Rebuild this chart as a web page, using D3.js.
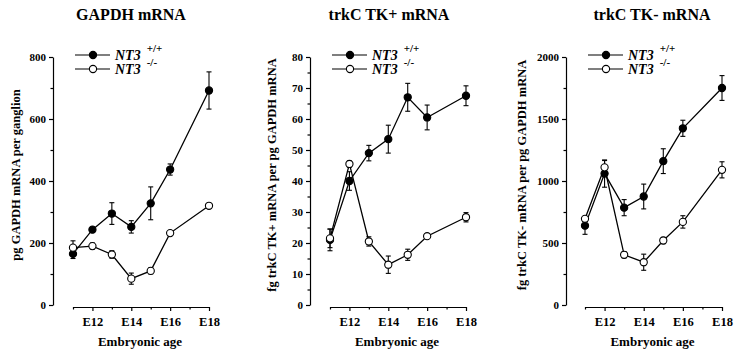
<!DOCTYPE html>
<html>
<head>
<meta charset="utf-8">
<script src="https://cdn.jsdelivr.net/npm/d3@7"></script>
<style>
  body { margin: 0; background: #fff; }
  text { font-family: "Liberation Serif", "DejaVu Serif", serif; font-weight: bold; fill: #000; }
</style>
</head>
<body>
<script>
// embryonic days sampled (no E17 point)
var ages = [11, 12, 13, 14, 15, 16, 18];
var xTickLabels = ["E12", "E14", "E16", "E18"];

// GAPDH mRNA, pg per ganglion
var gapdhWT = [165, 243, 295, 252, 328, 437, 692];
var gapdhWTErr = [15, 8, 35, 20, 53, 18, 60];
var gapdhKO = [185, 190, 163, 85, 110, 232, 320];
var gapdhKOErr = [22, 10, 12, 18, 10, 5, 5];

// trkC TK+ mRNA, fg per pg GAPDH mRNA
var tkPlusWT = [21, 40, 49, 53.5, 67, 60.5, 67.5];
var tkPlusWTErr = [3.5, 3, 2.5, 4.5, 4.5, 4, 3.2];
var tkPlusKO = [21.5, 45.5, 20.5, 13, 16.2, 22.2, 28.3];
var tkPlusKOErr = [3, 1, 1.5, 2.8, 1.8, 0.5, 1.5];

// trkC TK- mRNA, fg per pg GAPDH mRNA
var tkMinusWT = [640, 1060, 785, 875, 1160, 1425, 1750];
var tkMinusWTErr = [70, 110, 65, 100, 100, 65, 100];
var tkMinusKO = [695, 1110, 405, 345, 520, 670, 1090];
var tkMinusKOErr = [20, 55, 25, 65, 25, 50, 65];

var w = 740, h = 353;
var yTop = 57, yBottom = 305, xAxisY = 307;

var panels = [
  { title: "GAPDH mRNA", ylabel: "pg GAPDH mRNA per ganglion", yMax: 800, major: 200, minor: 100,
    axisX: 53, x0: 73, x1: 209, titleX: 131, ylabX: 20,
    wt: gapdhWT, wtErr: gapdhWTErr, ko: gapdhKO, koErr: gapdhKOErr },
  { title: "trkC TK+ mRNA", ylabel: "fg trkC TK+ mRNA per pg GAPDH mRNA", yMax: 80, major: 10, minor: 5,
    axisX: 310, x0: 330, x1: 466, titleX: 389, ylabX: 276,
    wt: tkPlusWT, wtErr: tkPlusWTErr, ko: tkPlusKO, koErr: tkPlusKOErr },
  { title: "trkC TK- mRNA", ylabel: "fg trkC TK- mRNA per pg GAPDH mRNA", yMax: 2000, major: 500, minor: 250,
    axisX: 566, x0: 585, x1: 722, titleX: 652, ylabX: 526,
    wt: tkMinusWT, wtErr: tkMinusWTErr, ko: tkMinusKO, koErr: tkMinusKOErr }
];

var svg = d3.select("body").append("svg").attr("width", w).attr("height", h);

panels.forEach(function (p) {
  var g = svg.append("g");
  var xScale = d3.scaleLinear().domain([11, 18]).range([p.x0, p.x1]);
  var yScale = d3.scaleLinear().domain([0, p.yMax]).range([yBottom, yTop]);

  // title
  g.append("text").attr("x", p.titleX).attr("y", 20).attr("text-anchor", "middle")
    .style("font-size", "16px").text(p.title);

  // y axis: major ticks with labels, minor ticks without
  var yAxis = d3.axisLeft(yScale).tickValues(d3.range(0, p.yMax + 1, p.major))
    .tickFormat(d3.format("d")).tickSize(4).tickPadding(3).tickSizeOuter(0);
  var ya = g.append("g").attr("transform", "translate(" + p.axisX + ",0)").call(yAxis)
    .attr("font-family", null).attr("font-size", null);
  ya.selectAll("text").style("font-size", "11px");
  var yMinor = d3.axisLeft(yScale).tickValues(d3.range(p.minor, p.yMax, p.major))
    .tickSize(2.5).tickFormat("").tickSizeOuter(0);
  g.append("g").attr("transform", "translate(" + p.axisX + ",0)").call(yMinor)
    .select(".domain").remove();

  // x axis
  var xAxis = d3.axisBottom(xScale).tickValues([12, 14, 16, 18])
    .tickFormat(function (d, i) { return xTickLabels[i]; })
    .tickSize(4).tickPadding(6).tickSizeOuter(0);
  var xa = g.append("g").attr("transform", "translate(0," + xAxisY + ")").call(xAxis)
    .attr("font-family", null).attr("font-size", null);
  xa.selectAll("text").style("font-size", "12.5px");
  var xMinor = d3.axisBottom(xScale).tickValues([11, 13, 15, 17])
    .tickSize(2.5).tickFormat("").tickSizeOuter(0);
  g.append("g").attr("transform", "translate(0," + xAxisY + ")").call(xMinor)
    .select(".domain").remove();

  g.selectAll(".domain, .tick line").attr("stroke", "#000").attr("stroke-width", 1.2);

  // axis titles
  g.append("text").attr("x", (p.x0 + p.x1) / 2 - 1).attr("y", 346).attr("text-anchor", "middle")
    .style("font-size", "13px").text("Embryonic age");
  g.append("text")
    .attr("transform", "translate(" + p.ylabX + ",175) rotate(-90)")
    .attr("text-anchor", "middle").style("font-size", "12.5px").text(p.ylabel);

  // series
  var series = [
    { vals: p.wt, err: p.wtErr, fill: "#000" },
    { vals: p.ko, err: p.koErr, fill: "#fff" }
  ];
  var line = d3.line().x(function (d) { return xScale(d[0]); }).y(function (d) { return yScale(d[1]); });

  series.forEach(function (s) {
    var pts = ages.map(function (a, i) { return [a, s.vals[i], s.err[i]]; });
    g.append("path").datum(pts).attr("d", line).attr("fill", "none")
      .attr("stroke", "#000").attr("stroke-width", 1.3);
    var eb = g.append("g").selectAll("g").data(pts).enter().append("g");
    eb.append("line")
      .attr("x1", function (d) { return xScale(d[0]); }).attr("x2", function (d) { return xScale(d[0]); })
      .attr("y1", function (d) { return yScale(d[1] - d[2]); }).attr("y2", function (d) { return yScale(d[1] + d[2]); })
      .attr("stroke", "#000").attr("stroke-width", 1.1);
    [-1, 1].forEach(function (sign) {
      eb.append("line")
        .attr("x1", function (d) { return xScale(d[0]) - 2.5; }).attr("x2", function (d) { return xScale(d[0]) + 2.5; })
        .attr("y1", function (d) { return yScale(d[1] + sign * d[2]); })
        .attr("y2", function (d) { return yScale(d[1] + sign * d[2]); })
        .attr("stroke", "#000").attr("stroke-width", 1.1);
    });
    g.append("g").selectAll("circle").data(pts).enter().append("circle")
      .attr("cx", function (d) { return xScale(d[0]); })
      .attr("cy", function (d) { return yScale(d[1]); })
      .attr("r", 3.6).attr("fill", s.fill).attr("stroke", "#000").attr("stroke-width", 1.1);
  });

  // legend
  var leg = [{ fill: "#000", sup: "+/+", y: 55 }, { fill: "#fff", sup: "-/-", y: 69 }];
  leg.forEach(function (l) {
    var lx = p.axisX + 22;
    g.append("line").attr("x1", lx).attr("x2", lx + 35).attr("y1", l.y).attr("y2", l.y)
      .attr("stroke", "#000").attr("stroke-width", 1.2);
    g.append("circle").attr("cx", lx + 18).attr("cy", l.y).attr("r", 3.6)
      .attr("fill", l.fill).attr("stroke", "#000").attr("stroke-width", 1.1);
    var t = g.append("text").attr("x", lx + 40).attr("y", l.y + 5).style("font-size", "14px");
    t.append("tspan").style("font-style", "italic").text("NT3");
    t.append("tspan").attr("dx", 6).attr("dy", -8).style("font-size", "11px").text(l.sup);
  });
});
</script>
</body>
</html>
